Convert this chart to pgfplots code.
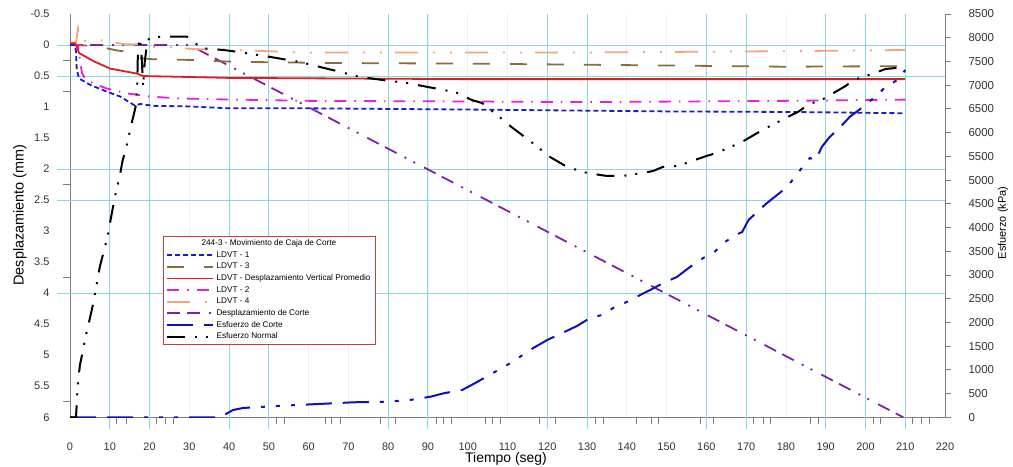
\documentclass[border=0pt]{standalone}
\usepackage{fontspec}
\setmainfont{Liberation Sans}
\usepackage{pgfplots}
\pgfplotsset{compat=1.18}
\usepackage{pgfplotstable}

\definecolor{cA}{RGB}{25,25,205}
\definecolor{cB}{RGB}{140,108,62}
\definecolor{cR}{RGB}{222,30,30}
\definecolor{cM}{RGB}{235,30,220}
\definecolor{cO}{RGB}{245,165,120}
\definecolor{cP}{RGB}{130,30,170}
\definecolor{cS}{RGB}{15,15,190}
\definecolor{gcyan}{RGB}{140,215,230}
\definecolor{ggray}{RGB}{238,241,244}
\definecolor{agray}{RGB}{125,125,125}
\definecolor{lred}{RGB}{200,60,60}

\pgfplotstableread{
t v
0 0
1.2 0.0
1.5 0.1
1.7 0.4
2.3 0.54
5 0.64
9.2 0.75
12.6 0.83
16.4 0.98
17.6 0.95
20.9 0.98
30 0.99
40 1.02
60 1.02
100 1.04
150 1.07
183 1.08
210 1.1
}\ldvtA

\pgfplotstableread{
t v
0 0
5 0.01
7.5 0.03
12 0.09
16.5 0.12
17.2 0.21
21 0.23
30 0.24
41 0.27
66 0.29
100 0.30
150 0.33
180 0.35
210 0.34
}\ldvtC

\pgfplotstableread{
t v
0 -0.03
1.2 -0.03
1.5 0.0
2.3 0.13
5.9 0.26
10.1 0.38
16.8 0.46
18.4 0.50
26 0.51
40 0.53
70 0.54
100 0.55
150 0.55
210 0.55
}\ldvtP

\pgfplotstableread{
t v
0 0
2 0.0
3 0.45
3.8 0.54
5.9 0.62
9.2 0.70
14.3 0.78
16.8 0.80
20 0.83
27 0.86
37 0.875
60 0.90
100 0.91
130 0.92
180 0.90
210 0.88
}\ldvtB

\pgfplotstableread{
t v
0 -0.04
1.5 -0.04
2.0 -0.26
2.5 -0.04
5.5 -0.10
14 -0.01
17 -0.01
20 0.03
24 0.03
32 0.07
37 0.07
58 0.12
130 0.12
180 0.10
210 0.08
}\ldvtD

\pgfplotstableread{
t v
0 0
30 0
209.5 6.0
}\despl

\pgfplotstableread{
t s
0 0
37.7 0
41 154
43.5 196
47.8 217
53.6 245
66.2 295
71.2 316
79.7 329
85.5 365
90.6 434
94.3 512
98.6 575
101.9 723
107.7 997
111.2 1166
116.5 1461
120 1630
123.8 1778
127.5 1926
130.8 2094
133.8 2157
136.6 2305
140 2431
143.4 2579
145.9 2684
149.2 2831
152.6 2958
155.9 3169
159.2 3357
161.8 3463
164.3 3674
167.3 3842
169 3906
170.6 4159
175 4500
180.3 4854
183 5149
185 5360
186 5465
187.5 5423
189 5697
191 5908
193.7 6118
196 6329
199 6518
203 6793
205 6961
208 7108
210 7319
}\corte

\pgfplotstableread{
t s
0 0
1.5 0
1.7 280
1.85 540
2.1 822
2.5 1102
3.2 1383
4.2 1804
5.0 2086
5.7 2346
6.3 2613
7.5 3174
8.8 3595
9.6 3878
10.2 4158
11.3 4649
12.6 5127
13.2 5401
14.1 5669
15.1 6055
15.9 6335
16.5 6546
16.9 7000
17.1 7810
17.6 7987
18.0 7600
18.4 6970
18.8 7500
19.5 7950
20.5 8008
23.4 8022
29.4 8022
31.2 7895
33.5 7777
38.6 7741
41.9 7705
50 7600
57.8 7488
66 7319
73 7172
78.7 7108
84.7 7045
90 6961
97 6850
101 6688
103.6 6624
108 6329
111 6118
116 5802
120.7 5486
125 5276
127.5 5212
130 5149
135 5086
139 5086
144 5149
146.6 5191
149 5276
152.6 5297
155 5360
160 5507
162.6 5571
166 5697
168.5 5781
172.8 5992
175 6097
178 6223
180.4 6329
183 6434
185.5 6582
186.7 6624
190 6730
192.4 6856
195 6982
197 7108
203 7277
205 7340
207.5 7361
210 7466
}\normal

\tikzset{
 sA/.style={cA, line width=1.8bp, dash pattern=on 5bp off 3bp},
 sC/.style={cB, line width=1.8bp, dash pattern=on 17bp off 20bp},
 sP/.style={cR, line width=1.8bp},
 sB/.style={cM, line width=1.8bp, dash pattern=on 12bp off 8bp on 1.5bp off 8bp},
 sD/.style={cO, line width=1.8bp, dash pattern=on 23bp off 15bp on 2bp off 15bp on 2bp off 13bp},
 sE/.style={cP, line width=1.8bp, dash pattern=on 13bp off 7bp on 13bp off 9bp on 2bp off 8bp on 2bp off 10bp},
 sF/.style={cS, line width=2bp, dash pattern=on 26bp off 11bp on 26bp off 11bp on 4bp off 11bp on 4bp off 11bp on 4bp off 11bp},
 sG/.style={black, line width=2bp, dash pattern=on 18bp off 10bp on 2bp off 9bp on 2bp off 10bp},
}

\begin{document}
\begin{tikzpicture}[x=1bp,y=1bp]
\useasboundingbox (0,0) rectangle (1013,467);
\begin{axis}[
  at={(70bp,49.7bp)}, anchor=south west, scale only axis,
  width=875bp, height=403.3bp,
  xmin=0, xmax=220, ymin=-0.5, ymax=6, y dir=reverse,
  axis x line*=bottom, axis y line*=left,
  axis line style={draw=agray, line width=1bp},
  tick align=outside,
  major tick length=0bp, minor tick length=7bp,
  tick style={agray, line width=0.8bp},
  xtick={0,10,...,220},
  xticklabels={0,10,20,30,40,50,60,70,80,90,100,110,120,130,140,150,160,170,180,190,200,210,220},
  ytick={-0.5,0,0.5,1,1.5,2,2.5,3,3.5,4,4.5,5,5.5,6},
  yticklabels={-0.5,0,0.5,1,1.5,2,2.5,3,3.5,4,4.5,5,5.5,6},
  minor xtick={11.7,14.1,21.8,24.1,26,52,53.8,64.2,65.8,67.9,78,81.8,92.2,93.9,96,104.4,106.3,108.2,118.1,122,132.1,134.2,142.4,146.1,148,158.5,161.8,171.8,174.3,176.1,186.2,188.2,202,203.8,211.7,214,216},
  minor ytick={0.25,0.75,2.25,3.75,5.75},
  xmajorgrids, major grid style={ggray, line width=0.8bp},
  extra x ticks={10,20,40,50,80,90,120,130,160,170,190,200,210},
  extra x tick labels={},
  extra x tick style={major tick length=12bp, tick style={gcyan, line width=1bp}, major grid style={gcyan, line width=1bp}},
  extra y ticks={0,0.5,2,2.5,4},
  extra y tick labels={},
  extra y tick style={grid=major, major tick length=13bp, tick style={gcyan, line width=1bp}, major grid style={gcyan, line width=1bp}},
  ticklabel style={font=\fontsize{11}{13}\selectfont, text=black!80},
  xticklabel style={yshift=-22bp},
  yticklabel style={xshift=-17bp},
  clip=false,
]
\addplot[sE] table[x=t,y=v] {\despl};
\addplot[sD] table[x=t,y=v] {\ldvtD};
\addplot[sC] table[x=t,y=v] {\ldvtC};
\addplot[sB] table[x=t,y=v] {\ldvtB};
\addplot[sA] table[x=t,y=v] {\ldvtA};
\addplot[sP] table[x=t,y=v] {\ldvtP};
\end{axis}
\begin{axis}[
  at={(70bp,49.7bp)}, anchor=south west, scale only axis,
  width=875bp, height=403.3bp,
  xmin=0, xmax=220, ymin=0, ymax=8500,
  axis x line=none, axis y line*=right,
  axis line style={draw=agray, line width=1bp},
  tick align=outside, major tick length=6bp,
  tick style={agray, line width=0.8bp},
  xtick=\empty,
  ytick={0,500,...,8500},
  yticklabels={0,500,1000,1500,2000,2500,3000,3500,4000,4500,5000,5500,6000,6500,7000,7500,8000,8500},
  ticklabel style={font=\fontsize{11.5}{13}\selectfont, text=black!80},
  yticklabel style={xshift=14bp},
  legend image code/.code={\draw[#1] (0bp,0bp) -- (46bp,0bp);},
  legend cell align=left,
  legend style={at={(0.1063,0.4496)}, anchor=north west, draw=lred, line width=0.8bp, fill=white,
    font=\fontsize{8.25}{9.5}\selectfont, inner xsep=3bp, inner ysep=1.5bp,
    nodes={inner sep=2.15bp}, row sep=0bp},
]
\addplot[sF, forget plot] table[x=t,y=s] {\corte};
\addplot[sG, forget plot] table[x=t,y=s] {\normal};
\addlegendimage{empty legend}\addlegendentry{\hspace*{-15bp}244-3 - Movimiento de Caja de Corte}
\addlegendimage{sA}\addlegendentry{LDVT - 1}
\addlegendimage{sC}\addlegendentry{LDVT - 3}
\addlegendimage{sP}\addlegendentry{LDVT - Desplazamiento Vertical Promedio}
\addlegendimage{sB}\addlegendentry{LDVT - 2}
\addlegendimage{sD}\addlegendentry{LDVT - 4}
\addlegendimage{sE}\addlegendentry{Desplazamiento de Corte}
\addlegendimage{sF}\addlegendentry{Esfuerzo de Corte}
\addlegendimage{sG}\addlegendentry{Esfuerzo Normal}
\end{axis}
\node[font=\fontsize{14}{16}\selectfont] at (506,8) {Tiempo (seg)};
\node[font=\fontsize{14.5}{16}\selectfont, rotate=90] at (20,252) {Desplazamiento (mm)};
\node[font=\fontsize{11}{13}\selectfont, rotate=90] at (1003,244) {Esfuerzo (kPa)};
\end{tikzpicture}
\end{document}
